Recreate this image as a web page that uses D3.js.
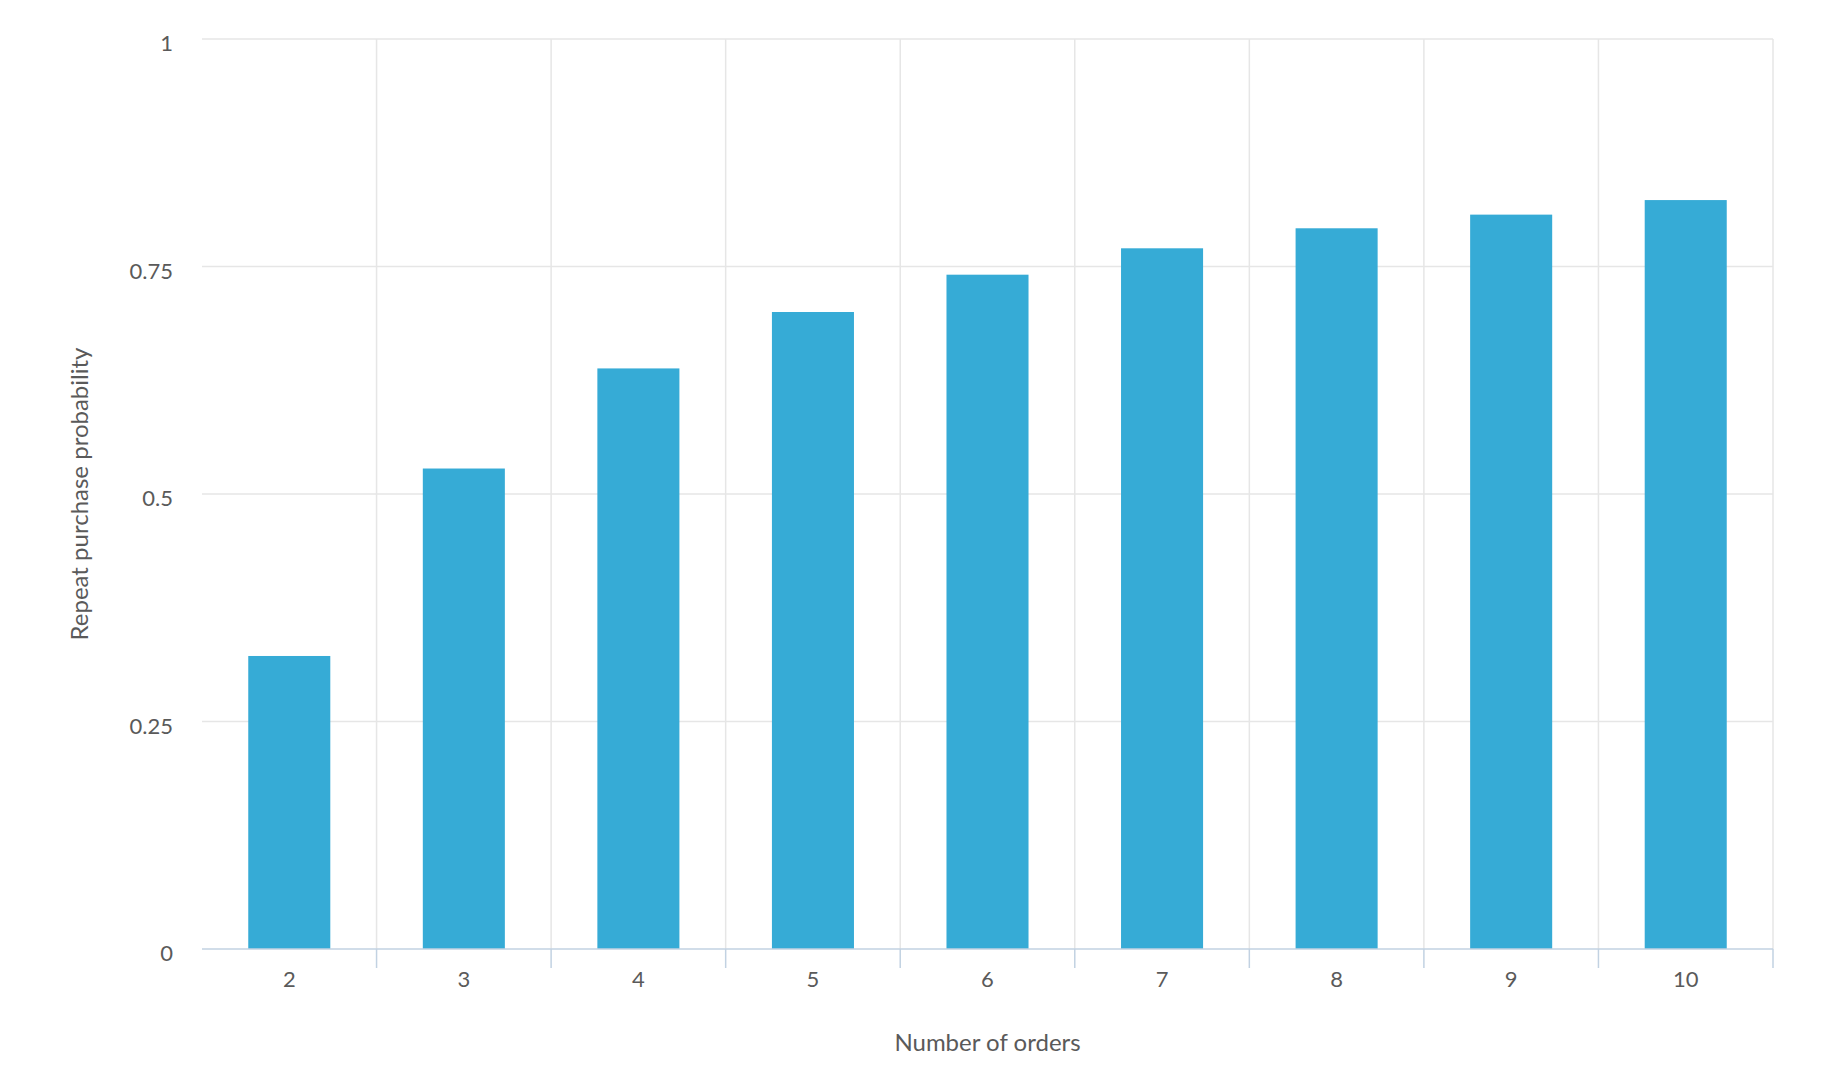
<!DOCTYPE html>
<html>
<head>
<meta charset="utf-8">
<script src="https://cdn.jsdelivr.net/npm/d3@7"></script>
<style>
  body { margin: 0; background: #fff; }
  text { font-family: Lato, "Open Sans", sans-serif; fill: #5a5a5a; }
</style>
</head>
<body>
<script>
// chart data
var orders = ["2", "3", "4", "5", "6", "7", "8", "9", "10"];
var probability = [0.322, 0.528, 0.638, 0.700, 0.741, 0.770, 0.792, 0.807, 0.823];
var yTicks = [0, 0.25, 0.5, 0.75, 1];
var yTickLabels = ["0", "0.25", "0.5", "0.75", "1"];

var width = 1846, height = 1084;
var margin = {top: 39, right: 73, bottom: 135, left: 202};

var svg = d3.select("body").append("svg")
    .attr("width", width)
    .attr("height", height);

var x = d3.scaleBand()
    .domain(orders)
    .range([margin.left, width - margin.right])
    .paddingInner(0.53)
    .paddingOuter(0.265);

var y = d3.scaleLinear()
    .domain([0, 1])
    .range([height - margin.bottom, margin.top]);

// band boundaries for vertical grid and ticks
var step = (width - margin.right - margin.left) / orders.length;
var bounds = orders.map(function(d, i) { return margin.left + step * (i + 1); });

// horizontal grid
svg.append("g")
    .selectAll("line")
    .data(yTicks.filter(function(d) { return d > 0; }))
    .join("line")
    .attr("x1", margin.left)
    .attr("x2", width - margin.right)
    .attr("y1", function(d) { return y(d); })
    .attr("y2", function(d) { return y(d); })
    .attr("stroke", "#e6e6e6")
    .attr("stroke-width", 1.5);

// vertical grid
svg.append("g")
    .selectAll("line")
    .data(bounds)
    .join("line")
    .attr("x1", function(d) { return d; })
    .attr("x2", function(d) { return d; })
    .attr("y1", y(1))
    .attr("y2", y(0))
    .attr("stroke", "#e6e6e6")
    .attr("stroke-width", 1.5);

// bars
svg.append("g")
    .selectAll("rect")
    .data(probability)
    .join("rect")
    .attr("x", function(d, i) { return x(orders[i]); })
    .attr("width", x.bandwidth())
    .attr("y", function(d) { return y(d); })
    .attr("height", function(d) { return y(0) - y(d); })
    .attr("fill", "#36abd6");

// x axis line + ticks
svg.append("line")
    .attr("x1", margin.left)
    .attr("x2", width - margin.right)
    .attr("y1", y(0))
    .attr("y2", y(0))
    .attr("stroke", "#c2d2e2")
    .attr("stroke-width", 1.5);

svg.append("g")
    .selectAll("line")
    .data(bounds)
    .join("line")
    .attr("x1", function(d) { return d; })
    .attr("x2", function(d) { return d; })
    .attr("y1", y(0))
    .attr("y2", y(0) + 19)
    .attr("stroke", "#c2d2e2")
    .attr("stroke-width", 1.5);

// x labels
svg.append("g")
    .selectAll("text")
    .data(orders)
    .join("text")
    .attr("x", function(d) { return x(d) + x.bandwidth() / 2; })
    .attr("y", y(0) + 38)
    .attr("text-anchor", "middle")
    .style("font-size", "22px")
    .text(function(d) { return d; });

// y labels
svg.append("g")
    .selectAll("text")
    .data(yTicks)
    .join("text")
    .attr("x", margin.left - 29)
    .attr("y", function(d) { return y(d) + 12; })
    .attr("text-anchor", "end")
    .style("font-size", "22px")
    .text(function(d, i) { return yTickLabels[i]; });

// axis titles
svg.append("text")
    .attr("x", (margin.left + width - margin.right) / 2)
    .attr("y", 1051)
    .attr("text-anchor", "middle")
    .style("font-size", "24px")
    .text("Number of orders");

svg.append("text")
    .attr("transform", "translate(88," + ((y(0) + y(1)) / 2) + ") rotate(-90)")
    .attr("text-anchor", "middle")
    .style("font-size", "24px")
    .text("Repeat purchase probability");
</script>
</body>
</html>
